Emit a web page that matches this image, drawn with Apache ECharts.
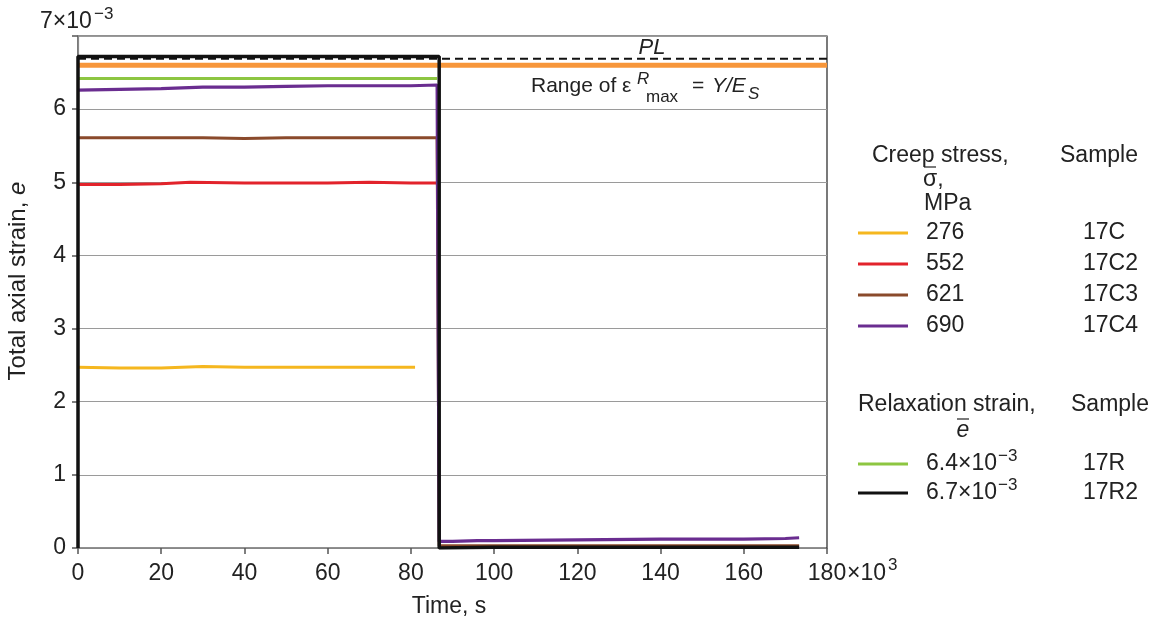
<!DOCTYPE html>
<html>
<head>
<meta charset="utf-8">
<script src="https://cdn.jsdelivr.net/npm/echarts@6/dist/echarts.min.js"></script>
<style>html,body{margin:0;padding:0;background:#fff}#c{width:1159px;height:624px}</style>
</head>
<body>
<div id="c"></div>
<script>
// ---- data (time in 10^3 s, strain in 10^-3) ----
var xTicks = [0, 20, 40, 60, 80, 100, 120, 140, 160, 180];
var yTicks = [0, 1, 2, 3, 4, 5, 6, 7];

var t17C = [0, 10, 20, 30, 40, 50, 60, 70, 81];
var e17C = [2.47, 2.46, 2.46, 2.48, 2.47, 2.47, 2.47, 2.47, 2.47];

var t17C2 = [0, 10, 20, 27, 40, 50, 60, 70, 80, 86.3];
var e17C2 = [4.97, 4.97, 4.98, 5.00, 4.99, 4.99, 4.99, 5.00, 4.99, 4.99];

var t17C3 = [0, 10, 20, 30, 40, 50, 60, 70, 80, 86.3, 86.8, 100, 120, 140, 160, 173.3];
var e17C3 = [5.61, 5.61, 5.61, 5.61, 5.60, 5.61, 5.61, 5.61, 5.61, 5.61, 0.03, 0.03, 0.03, 0.03, 0.03, 0.03];

var t17C4 = [0, 10, 20, 30, 40, 50, 60, 70, 80, 86.3, 86.8, 90, 96, 100, 120, 140, 160, 170, 173.3];
var e17C4 = [6.26, 6.27, 6.28, 6.30, 6.30, 6.31, 6.32, 6.32, 6.32, 6.33, 0.09, 0.09, 0.10, 0.10, 0.11, 0.12, 0.12, 0.13, 0.14];

var t17R = [0, 20, 40, 60, 86.3];
var e17R = [6.42, 6.42, 6.42, 6.42, 6.42];

var t17R2 = [0, 0, 20, 40, 60, 86.8, 86.8, 100, 120, 140, 160, 173.3];
var e17R2 = [0, 6.72, 6.72, 6.72, 6.72, 6.72, 0, 0.01, 0.01, 0.01, 0.01, 0.01];

var plX = [0, 180], plY = [6.69, 6.69];          // proportional limit (dashed)
var ysX = [0, 180], ysY = [6.60, 6.60];          // Y/E_S line (orange)

var creepStress = ['276', '552', '621', '690'];
var creepSample = ['17C', '17C2', '17C3', '17C4'];
var creepColor = ['#f5b71f', '#e2232b', '#8a4a2b', '#6a2d90'];
var relaxStrain = ['6.4×10', '6.7×10'];
var relaxSample = ['17R', '17R2'];
var relaxColor = ['#8dc641', '#111111'];

function pairs(xs, ys) { return xs.map(function (x, i) { return [x, ys[i]]; }); }

var FONT = "'Liberation Sans', Arial, Helvetica, sans-serif";
var FS = 23, SUP = 17;
var chart = echarts.init(document.getElementById('c'));

function line(name, xs, ys, color, width, z, dash) {
  return {
    name: name, type: 'line', data: pairs(xs, ys), showSymbol: false, symbol: 'none',
    lineStyle: { color: color, width: width, type: dash || 'solid' }, z: z,
    animation: false, silent: true
  };
}

var graphics = [];
function txt(x, y, s, size, opts) {
  opts = opts || {};
  var st = Object.assign({ text: s, x: x, y: y, font: (opts.italic ? 'italic ' : '') + (size || FS) + 'px ' + FONT, fill: '#222', textVerticalAlign: 'middle', textAlign: 'left' }, opts.style || {});
  graphics.push({ type: 'text', style: st, z: 100 });
}
// top-left exponent
txt(40, 22, '7×10', FS);
txt(94, 14, '−3', SUP);
// x-axis exponent
txt(847, 574, '×10', FS);
txt(888, 565, '3', SUP);
// PL label
txt(652, 48, 'PL', 22, { italic: true, style: { textAlign: 'center' } });
// Range of ε^R_max = Y/E_S
txt(531, 86, 'Range of ε', 21);
txt(637, 79, 'R', 17, { italic: true });
txt(646, 97, 'max', 17);
txt(692, 86, '=', 21);
txt(712, 86, 'Y/E', 21, { italic: true });
txt(748, 94, 'S', 17, { italic: true });
// axis titles
graphics.push({ type: 'text', rotation: Math.PI / 2, x: 18, y: 281,
  style: { text: '{n|Total axial strain, }{i|e}', textAlign: 'center', textVerticalAlign: 'middle',
    rich: { n: { font: '24px ' + FONT, fill: '#222' }, i: { font: 'italic 24px ' + FONT, fill: '#222' } } }, z: 100 });
txt(449, 607, 'Time, s', FS, { style: { textAlign: 'center' } });

// legend block 1
txt(872, 156, 'Creep stress,', FS);
txt(1060, 156, 'Sample', FS);
txt(923, 180, 'σ,', FS);
graphics.push({ type: 'line', shape: { x1: 924, y1: 167, x2: 936, y2: 167 }, style: { stroke: '#222', lineWidth: 1.2 }, z: 100 });
txt(924, 204, 'MPa', FS);
creepStress.forEach(function (v, i) {
  var y = 233 + i * 31;
  graphics.push({ type: 'line', shape: { x1: 858, y1: y, x2: 908, y2: y }, style: { stroke: creepColor[i], lineWidth: 3 }, z: 100 });
  txt(926, y, v, FS);
  txt(1083, y, creepSample[i], FS);
});
// legend block 2
txt(858, 405, 'Relaxation strain,', FS);
txt(1071, 405, 'Sample', FS);
txt(963, 431, 'e', FS, { italic: true, style: { textAlign: 'center' } });
graphics.push({ type: 'line', shape: { x1: 957, y1: 419, x2: 969, y2: 419 }, style: { stroke: '#222', lineWidth: 1.2 }, z: 100 });
relaxStrain.forEach(function (v, i) {
  var y = 464 + i * 29;
  graphics.push({ type: 'line', shape: { x1: 858, y1: y, x2: 908, y2: y }, style: { stroke: relaxColor[i], lineWidth: 3 }, z: 100 });
  txt(926, y, v, FS);
  txt(998, y - 8, '−3', SUP);
  txt(1083, y, relaxSample[i], FS);
});

var option = {
  animation: false,
  backgroundColor: '#fff',
  grid: { left: 78, right: 332, top: 36, bottom: 76, show: true, borderColor: '#222', borderWidth: 1.2, backgroundColor: 'transparent' },
  xAxis: {
    type: 'value', min: 0, max: 180, interval: 20,
    axisLine: { show: true, lineStyle: { color: '#888', width: 1.2 } },
    axisTick: { show: true, inside: false, length: 6, lineStyle: { color: '#555', width: 1.5 } },
    axisLabel: { color: '#222', fontSize: FS, fontFamily: FONT, margin: 14,
      formatter: function (v) { return xTicks.indexOf(v) >= 0 ? String(v) : ''; } },
    splitLine: { show: false }
  },
  yAxis: {
    type: 'value', min: 0, max: 7, interval: 1,
    axisLine: { show: true, lineStyle: { color: '#888', width: 1.2 } },
    axisTick: { show: true, inside: false, length: 6, lineStyle: { color: '#555', width: 1.5 } },
    axisLabel: { color: '#222', fontSize: FS, fontFamily: FONT, margin: 12,
      formatter: function (v) { return (v === 7 || yTicks.indexOf(v) < 0) ? '' : String(v); } },
    splitLine: { show: true, lineStyle: { color: '#9a9a9a', width: 1.2 } }
  },
  series: [
    line('Y/ES', ysX, ysY, '#f7963a', 5, 2),
    line('PL', plX, plY, '#111', 2, 3, [8, 5]),
    line('17C', t17C, e17C, creepColor[0], 3, 4),
    line('17C2', t17C2, e17C2, creepColor[1], 3, 4),
    line('17C3', t17C3, e17C3, creepColor[2], 3, 4),
    line('17R', t17R, e17R, relaxColor[0], 3, 4),
    line('17C4', t17C4, e17C4, creepColor[3], 3.2, 5),
    line('17R2', t17R2, e17R2, relaxColor[1], 3.5, 6)
  ],
  graphic: graphics
};
chart.setOption(option);
</script>
</body>
</html>
